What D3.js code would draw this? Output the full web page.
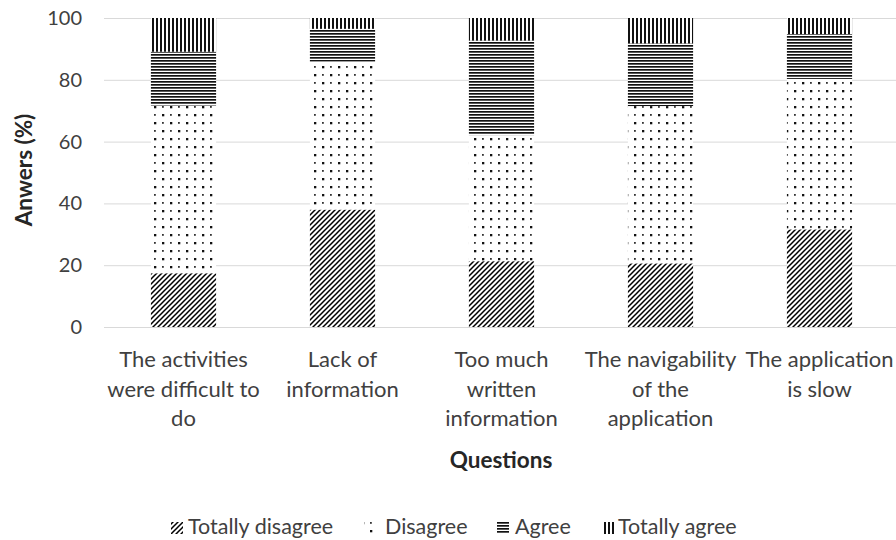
<!DOCTYPE html>
<html>
<head>
<meta charset="utf-8">
<script src="https://cdn.jsdelivr.net/npm/d3@7"></script>
<style>
  html, body { margin: 0; padding: 0; background: #fff; }
  svg { display: block; font-family: Lato, "Liberation Sans", sans-serif; }
</style>
</head>
<body>
<svg id="chart" width="896" height="540"></svg>
<script>
// Survey answers (%) per question, stacked to 100
const categories = [
  ["The activities", "were difficult to", "do"],
  ["Lack of", "information"],
  ["Too much", "written", "information"],
  ["The navigability", "of the", "application"],
  ["The application", "is slow"]
];
const seriesNames = ["Totally disagree", "Disagree", "Agree", "Totally agree"];
const totallyDisagree = [17.4, 38.0, 21.3, 20.6, 31.6];
const disagree        = [54.3, 47.9, 40.8, 50.9, 48.7];
const agree           = [17.4, 10.6, 30.6, 20.3, 14.5];
const totallyAgree    = [10.9,  3.5,  7.3,  8.2,  5.2];
const yTicks = [0, 20, 40, 60, 80, 100];

const svg = d3.select("#chart");
const W = 896, H = 540;
const textColor = "#404040";

// Fill patterns for the four answer levels
const defs = svg.append("defs");
function addPattern(id, w, h, draw) {
  const p = defs.append("pattern").attr("id", id)
    .attr("patternUnits", "userSpaceOnUse").attr("width", w).attr("height", h);
  p.append("rect").attr("width", w).attr("height", h).attr("fill", "#fff");
  draw(p);
}
addPattern("p-td", 5, 5, p => {
  p.append("path").attr("d", "M-1,6 L6,-1 M-2,2 L2,-2 M3,7 L7,3")
    .attr("stroke", "#000").attr("stroke-width", 1.5);
});
addPattern("p-d", 16, 16, p => {
  p.append("rect").attr("x", 2).attr("y", 2).attr("width", 2.3).attr("height", 2.3).attr("fill", "#111");
  p.append("rect").attr("x", 10).attr("y", 10).attr("width", 2.3).attr("height", 2.3).attr("fill", "#111");
  p.append("rect").attr("x", 10).attr("y", 2).attr("width", 1.8).attr("height", 1.8).attr("fill", "#333");
  p.append("rect").attr("x", 2).attr("y", 10).attr("width", 1.8).attr("height", 1.8).attr("fill", "#333");
});
addPattern("p-a", 4, 3, p => {
  p.append("rect").attr("x", 0).attr("y", 0).attr("width", 4).attr("height", 1.7).attr("fill", "#111");
});
addPattern("p-ta", 4, 4, p => {
  p.append("rect").attr("x", 0).attr("y", 0).attr("width", 2).attr("height", 4).attr("fill", "#111");
});
const fills = ["url(#p-td)", "url(#p-d)", "url(#p-a)", "url(#p-ta)"];

// Scales
const x = d3.scaleBand()
  .domain(d3.range(categories.length))
  .range([104, 899])
  .paddingInner(0.59)
  .paddingOuter(0.295);
const y = d3.scaleLinear().domain([0, 100]).range([327, 18]);

// Gridlines
svg.append("g").selectAll("line").data(yTicks).join("line")
  .attr("x1", 104).attr("x2", W)
  .attr("y1", d => y(d) + 0.5).attr("y2", d => y(d) + 0.5)
  .attr("stroke", "#d9d9d9").attr("stroke-width", 1);

// Y axis tick labels
const yAxis = d3.axisLeft(y).tickValues(yTicks).tickSize(0).tickPadding(0);
const yg = svg.append("g").attr("transform", "translate(82,0)").call(yAxis);
yg.select(".domain").remove();
yg.selectAll("text").attr("font-size", 20).attr("fill", textColor)
  .attr("font-family", "Lato, 'Liberation Sans', sans-serif");

// Stacked data
const rows = categories.map((c, i) => ({
  i,
  "Totally disagree": totallyDisagree[i],
  "Disagree": disagree[i],
  "Agree": agree[i],
  "Totally agree": totallyAgree[i]
}));
const stacked = d3.stack().keys(seriesNames)(rows);

svg.append("g").selectAll("g").data(stacked).join("g")
  .attr("fill", (d, k) => fills[k])
  .selectAll("rect").data(d => d).join("rect")
  .attr("x", d => x(d.data.i))
  .attr("width", x.bandwidth())
  .attr("y", d => y(d[1]))
  .attr("height", d => y(d[0]) - y(d[1]));

// X axis category labels (multi-line)
const xg = svg.append("g");
categories.forEach((lines, i) => {
  const cx = x(i) + x.bandwidth() / 2;
  const t = xg.append("text")
    .attr("text-anchor", "middle")
    .attr("font-size", 22)
    .attr("fill", textColor);
  lines.forEach((ln, j) => {
    t.append("tspan").attr("x", cx).attr("y", 367 + j * 29.5).text(ln);
  });
});

// Axis titles
svg.append("text")
  .attr("x", 501).attr("y", 468)
  .attr("text-anchor", "middle")
  .attr("font-size", 22.5).attr("font-weight", "bold").attr("fill", "#262626")
  .text("Questions");
svg.append("text")
  .attr("transform", "translate(32,170) rotate(-90)")
  .attr("text-anchor", "middle")
  .attr("font-size", 22.5).attr("font-weight", "bold").attr("fill", "#262626")
  .text("Anwers (%)");

// Legend
const legendSwatchX = [171, 364, 497, 602];
const legendTextX = [188, 385, 515, 618];
const lg = svg.append("g");
seriesNames.forEach((name, k) => {
  lg.append("rect")
    .attr("x", legendSwatchX[k]).attr("y", 522)
    .attr("width", 12).attr("height", 12)
    .attr("fill", fills[k]);
  lg.append("text")
    .attr("x", legendTextX[k]).attr("y", 534)
    .attr("font-size", 21.5).attr("fill", textColor)
    .text(name);
});
</script>
</body>
</html>
